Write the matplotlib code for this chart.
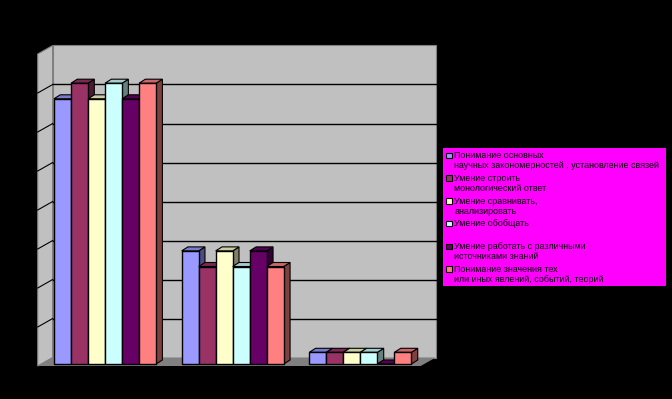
import matplotlib
matplotlib.use('Agg')
import matplotlib.pyplot as plt
from matplotlib.patches import Polygon, Rectangle
import numpy as np

plt.rcParams['font.family'] = ['Liberation Sans', 'DejaVu Sans']

# data (percent)
groups = ['1', '2', '3']
series = [
    'Понимание основных\nнаучных закономерностей , установление связей',
    'Умение строить\nмонологический ответ',
    'Умение сравнивать,\nанализировать',
    'Умение обобщать\n ',
    'Умение работать с различными\nисточниками знаний',
    'Понимание значения тех\nили иных явлений, событий, теорий',
]
s1 = [68, 29, 3]
s2 = [72, 25, 3]
s3 = [68, 29, 3]
s4 = [72, 25, 3]
s5 = [68, 29, 0]
s6 = [72, 25, 3]
values = [s1, s2, s3, s4, s5, s6]
colors = ['#9999ff', '#993366', '#ffffcc', '#ccffff', '#660066', '#ff8080']

W, H = 672, 399
fig = plt.figure(figsize=(W / 100, H / 100), dpi=100, facecolor='black')

# axes = front plane of the bars
ax_l, ax_b, ax_w, ax_h = 41.2, 364, 383, 312
ax = fig.add_axes([ax_l / W, (H - ax_b) / H, ax_w / W, ax_h / H])
ax.set_xlim(0, len(groups))
ax.set_ylim(0, 80)
ax.axis('off')

# pixel -> data units
ux = len(groups) / ax_w
uy = 80 / ax_h

def shift(pts, dxp, dyp):
    return [(x + dxp * ux, y + dyp * uy) for x, y in pts]

front = (-3.5, -2.0)    # box front relative to bars
back = (11.5, 6.5)      # back wall relative to bars
bar_d = (6.3, 4.0)      # depth of a bar
xmax = len(groups)

def poly(pts, fc, ec='none', lw=0.8, z=1):
    ax.add_patch(Polygon(pts, closed=True, facecolor=fc, edgecolor=ec,
                         linewidth=lw, clip_on=False, zorder=z))

# back wall
poly(shift([(0, 0), (xmax, 0), (xmax, 80), (0, 80)], *back), '#c0c0c0', '#808080')
# side wall
poly(shift([(0, 0), (0, 80)], *front) + shift([(0, 80), (0, 0)], *back), '#c0c0c0', '#808080')
# floor
poly(shift([(0, 0), (xmax, 0)], *front) + shift([(xmax, 0), (0, 0)], *back), '#808080', 'none')

# gridlines + side ticks
for g in range(10, 80, 10):
    p = shift([(0, g), (xmax, g)], *back)
    ax.plot([p[0][0], p[1][0]], [p[0][1], p[1][1]], color='black', lw=1, clip_on=False, zorder=2)
    q = shift([(0, g)], *front) + shift([(0, g)], *back)
    ax.plot([q[0][0], q[1][0]], [q[0][1], q[1][1]], color='black', lw=0.8, clip_on=False, zorder=2)

def shade(c, f):
    r, g, b = matplotlib.colors.to_rgb(c)
    return (r * f, g * f, b * f)

bw = 0.8 / len(series)
z = 5
for j in range(len(groups)):
    for i, vals in enumerate(values):
        v = vals[j]
        x0 = j + 0.1 + i * bw
        c = colors[i]
        # side face
        poly([(x0 + bw, 0), (x0 + bw, v)] + shift([(x0 + bw, v), (x0 + bw, 0)], *bar_d),
             shade(c, 0.5), 'black', 0.8, z)
        # top face
        poly([(x0, v), (x0 + bw, v)] + shift([(x0 + bw, v), (x0, v)], *bar_d),
             shade(c, 0.8), 'black', 0.8, z)
        # front face
        ax.bar(x0, v, width=bw, align='edge', color=c, edgecolor='black',
               linewidth=1, zorder=z, clip_on=False)
        z += 1

# legend
lx0, ly0, lx1, ly1 = 443, 148, 666, 286
fig.add_artist(Rectangle((lx0 / W, 1 - ly1 / H), (lx1 - lx0) / W, (ly1 - ly0) / H,
                         transform=fig.transFigure, facecolor='#ff00ff', edgecolor='none'))
step = 22.7
for i, lab in enumerate(series):
    yc = 155.7 + i * step
    fig.add_artist(Rectangle((446 / W, 1 - (yc + 2.5) / H), 5.5 / W, 5.5 / H,
                             transform=fig.transFigure, facecolor=colors[i],
                             edgecolor='black', linewidth=0.8))
    for k, line in enumerate(lab.split('\n')):
        fig.text(454.5 / W, 1 - (yc + k * 10) / H, line, fontsize=6.4,
                 color='black', va='center', ha='left')

fig.savefig('out.png', dpi=100, facecolor='black')
